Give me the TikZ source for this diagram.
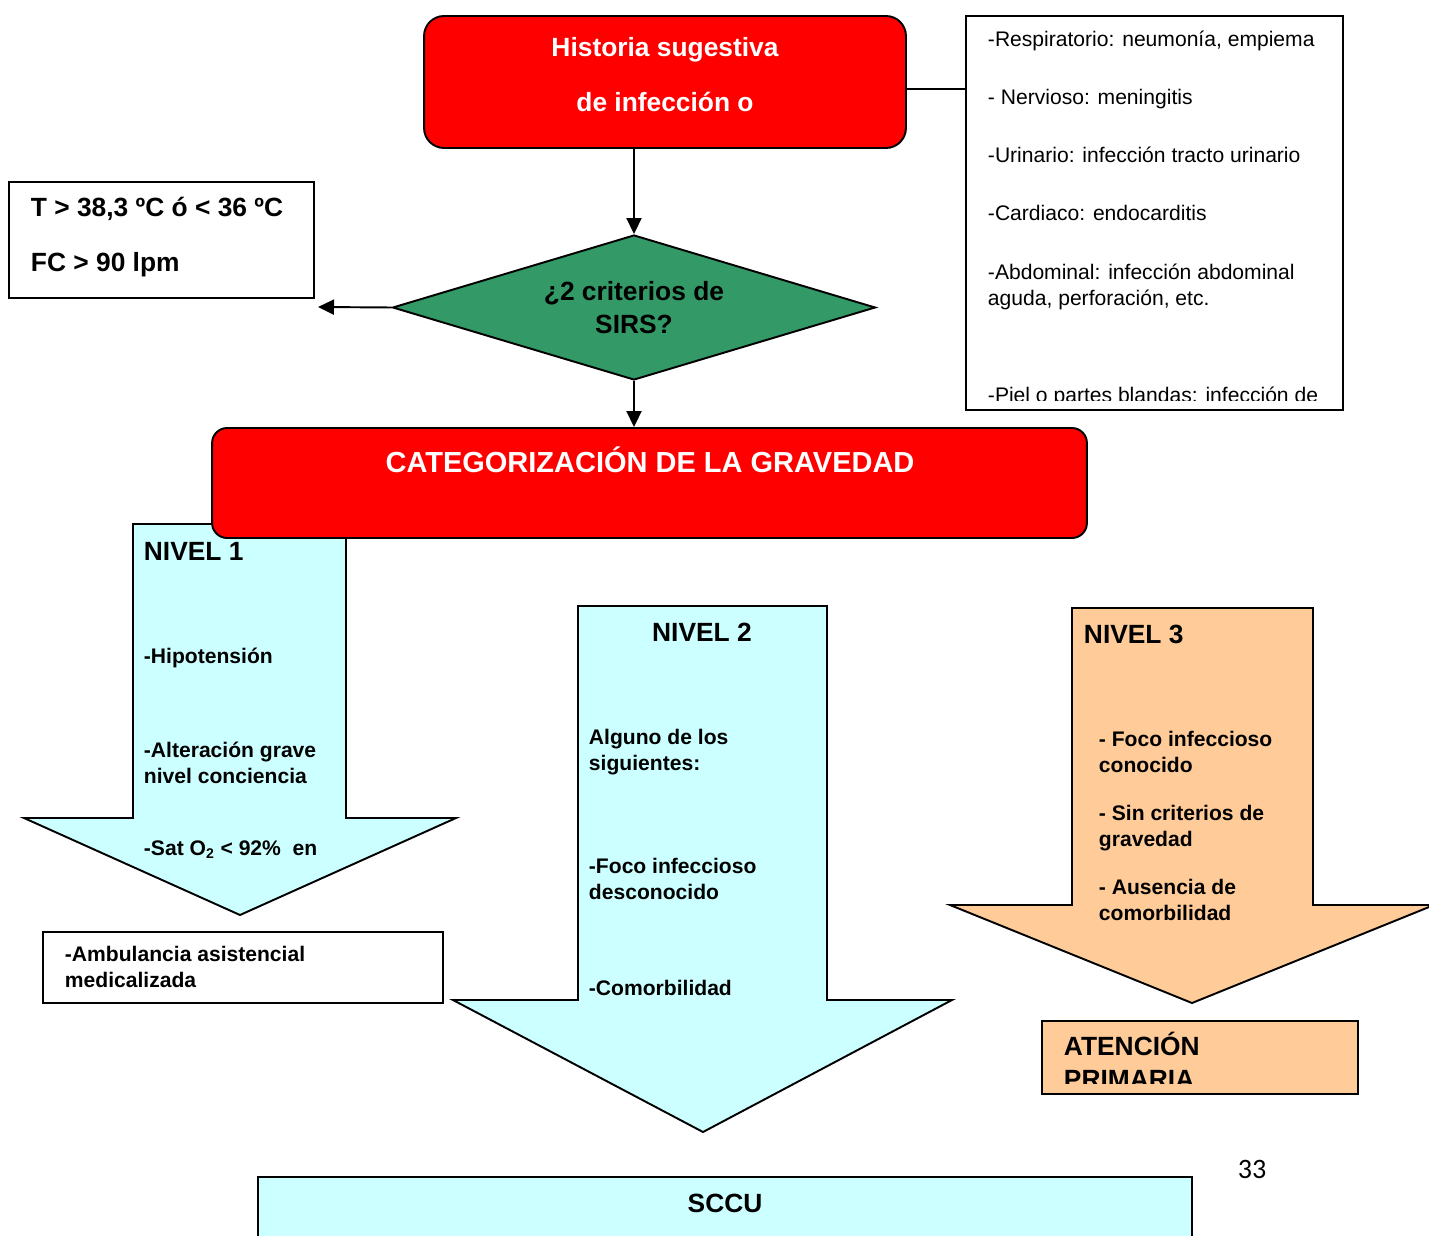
\documentclass[tikz,border=0pt]{standalone}
\usepackage{fontspec}
\setmainfont{Liberation Sans}
\newfontfamily\pagefont{Carlito}
\usetikzlibrary{shapes.geometric,arrows.meta}
\definecolor{rojo}{RGB}{255,0,0}
\definecolor{verde}{RGB}{51,153,102}
\definecolor{celeste}{RGB}{204,255,255}
\definecolor{naranja}{RGB}{255,204,153}
\tikzset{
  caja/.style={draw, line width=1.1pt, inner sep=0pt},
  rojocaja/.style={caja, fill=rojo},
  flecha/.style={-{Triangle[length=0.32cm,width=0.3cm]}},
  bloque/.style={draw, line width=1.1pt},
  normal/.style={inner sep=0pt, anchor=base west, align=left,
    font=\fontsize{12}{15.3}\selectfont},
  texto/.style={normal, font=\fontsize{12}{14.4}\selectfont\bfseries},
  grande/.style={normal, font=\fontsize{15}{18.7}\selectfont\bfseries},
  blanco/.style={grande, anchor=base, text=white}
}
\begin{document}
\begin{tikzpicture}[x=0.02cm, y=-0.02cm, line width=1.1pt]
  \useasboundingbox (0,0) rectangle (1429,1236);
  \clip (0,0) rectangle (1429,1236);

  % historia
  \node[rojocaja, rounded corners=0.4cm, minimum width=9.64cm, minimum height=2.64cm] (hist) at (665,82) {};
  \node[blanco] (hist1) at (665,57) {Historia sugestiva};
  \node[blanco] (hist2) at (665,112) {de infección o};

  % focos (base = ultima linea)
  \node[caja, minimum width=7.54cm, minimum height=7.88cm] (focos) at (1154.5,213) {};
  \node[normal] (foco1) at (987,47) {-Respiratorio: neumonía, empiema};
  \node[normal] (foco2) at (987,105) {- Nervioso: meningitis};
  \node[normal] (foco3) at (987,163) {-Urinario: infección tracto urinario};
  \node[normal] (foco4) at (987,221) {-Cardiaco: endocarditis};
  \node[normal] (foco5) at (987,306) {-Abdominal: infección abdominal\\aguda, perforación, etc.};
  \begin{scope}
    \clip (966,16) rectangle (1343,401);
    \node[normal] (foco6) at (987,403) {-Piel o partes blandas: infección de};
  \end{scope}

  % criterios
  \node[caja, minimum width=6.10cm, minimum height=2.32cm] (crit) at (161.5,240) {};
  \node[grande] (crit1) at (30,217) {T > 38,3 ºC ó < 36 ºC};
  \node[grande] (crit2) at (30,272) {FC > 90 lpm};
  \coordinate (critend) at (318,307);

  \node[diamond, draw, fill=verde, shape aspect=3.33, minimum width=9.66cm, minimum height=2.9cm,
    inner sep=0pt, align=center, font=\fontsize{15}{18.7}\selectfont\bfseries]
    (sirs) at (634,307.5) {¿2 criterios de\\SIRS?};

  % nivel 1
  \draw[bloque, fill=celeste] (133,524) -- (346,524) -- (346,818) -- (456,818) -- (240,915)
    -- (24,818) -- (133,818) -- cycle;
  \node[grande] (n1) at (143,560) {NIVEL 1};
  \node[texto] (n1a) at (143,663) {-Hipotensión};
  \node[texto] (n1b) at (143,783) {-Alteración grave\\nivel conciencia};
  \node[texto] (n1c) at (143,855) {-Sat O\textsubscript{2} < 92\%\ \ en};

  % categorizacion
  \node[rojocaja, rounded corners=0.3cm, minimum width=17.5cm, minimum height=2.2cm] (cat) at (649.5,483) {};
  \node[blanco, font=\fontsize{16.5}{20}\selectfont\bfseries] (cat1) at (650,472) {CATEGORIZACIÓN DE LA GRAVEDAD};

  \node[caja, minimum width=8cm, minimum height=1.42cm] (amb) at (243,967.5) {};
  \node[texto] (amb1) at (64,987) {-Ambulancia asistencial\\medicalizada};

  % nivel 2
  \draw[bloque, fill=celeste] (578,606) -- (827,606) -- (827,1000) -- (952,1000) -- (703,1132)
    -- (453,1000) -- (578,1000) -- cycle;
  \node[grande, anchor=base] (n2) at (702,641) {NIVEL 2};
  \node[texto] (n2a) at (588,770) {Alguno de los\\siguientes:};
  \node[texto] (n2b) at (588,899) {-Foco infeccioso\\desconocido};
  \node[texto] (n2c) at (588,995) {-Comorbilidad};

  % nivel 3
  \draw[bloque, fill=naranja] (1072,608) -- (1313,608) -- (1313,905) -- (1434,905) -- (1192,1003)
    -- (950,905) -- (1072,905) -- cycle;
  \node[grande] (n3) at (1083,643) {NIVEL 3};
  \node[texto] (n3a) at (1098,772) {- Foco infeccioso\\conocido};
  \node[texto] (n3b) at (1098,846) {- Sin criterios de\\gravedad};
  \node[texto] (n3c) at (1098,920) {- Ausencia de\\comorbilidad};

  \node[caja, fill=naranja, minimum width=6.32cm, minimum height=1.46cm] (ap) at (1200,1057.5) {};
  \begin{scope}
    \clip (1042,1021) rectangle (1358,1083);
    \node[grande] (ap1) at (1063,1088) {ATENCIÓN\\PRIMARIA};
  \end{scope}

  % sccu
  \node[caja, fill=celeste, minimum width=18.68cm, minimum height=1.86cm] (sccu) at (725,1223.5) {};
  \node[grande, anchor=base] (sccu1) at (725,1212) {SCCU};

  \node[inner sep=0pt, anchor=base, font=\pagefont\fontsize{16}{19}\selectfont] (pag) at (1252,1178) {33};

  \begin{scope}[-]
    \draw (hist.east |- 0,89) -- (focos.west |- 0,89);
    \draw[flecha] (hist.south -| sirs.north) -- (sirs.north);
    \draw[flecha] (sirs.west) -- (critend);
    \draw[flecha] (sirs.south) -- (sirs.south |- cat.north);
  \end{scope}
\end{tikzpicture}
\end{document}
